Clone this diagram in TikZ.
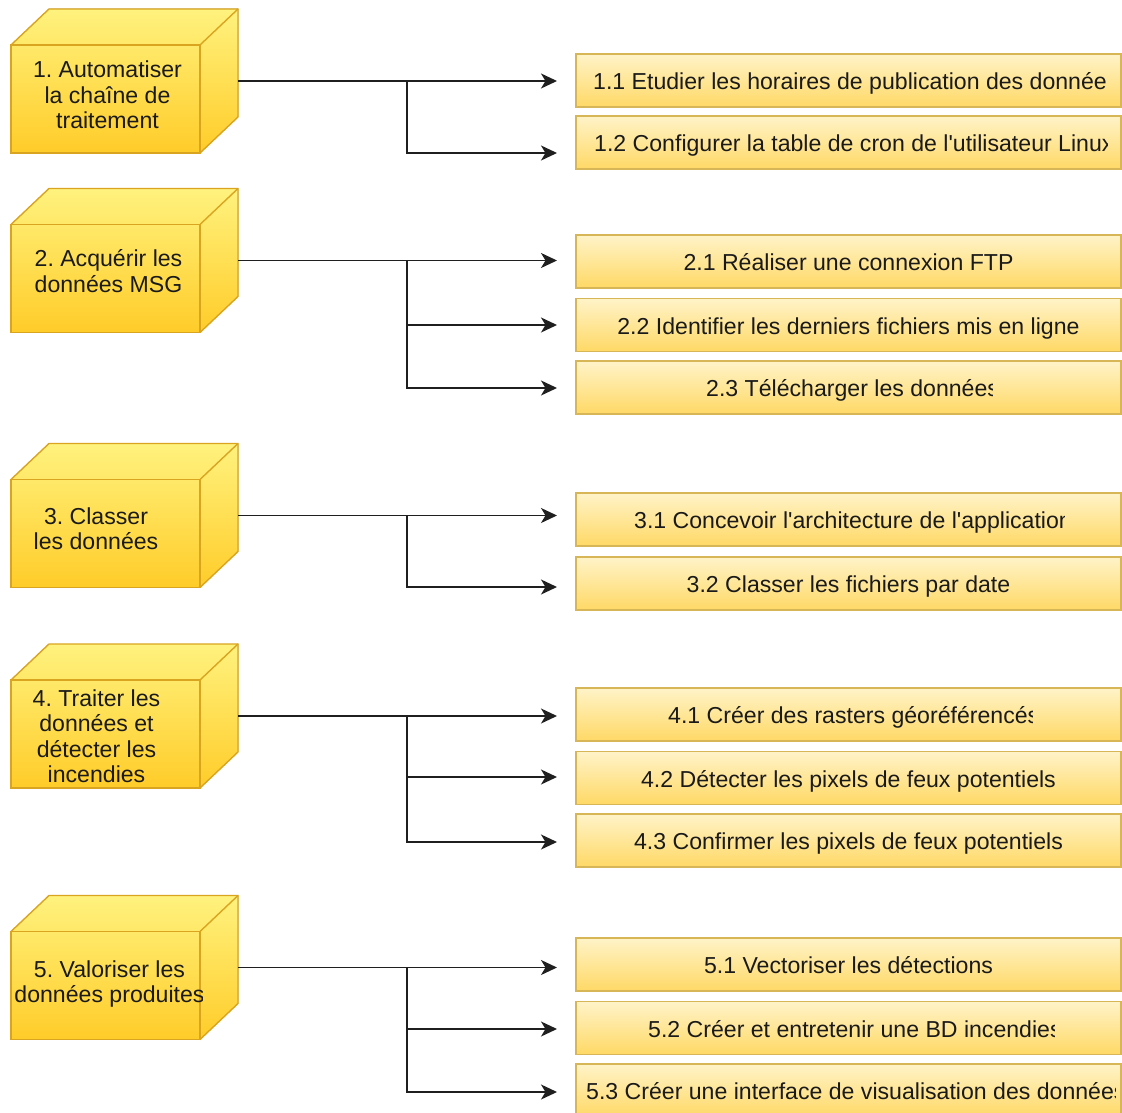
\documentclass[tikz,border=0pt]{standalone}
\usepackage{fontspec}
\setmainfont{Liberation Sans}
\usetikzlibrary{calc,arrows.meta}
\frenchspacing

\definecolor{cubetop}{HTML}{FFF27E}
\definecolor{cubebot}{HTML}{FFCC29}
\definecolor{cubeline}{HTML}{D9A520}
\definecolor{tasktop}{HTML}{FFF3C8}
\definecolor{taskbot}{HTML}{FFD966}
\definecolor{taskline}{HTML}{D6B656}
\definecolor{ink}{HTML}{1A1A1A}

% faces of a cube drawn inside the bounding node #1 (depth 38 x 36)
\newcommand\cubefaces[1]{%
  \fill[top color=cubetop, bottom color=cubebot]
    (#1.south west) -- ($(#1.north west)+(0,36)$) -- ($(#1.north west)+(38,0)$)
    -- (#1.north east) -- ($(#1.south east)+(0,-36)$) -- ($(#1.south east)+(-38,0)$) -- cycle;
  \draw[cubeedge] (#1.south west) rectangle ($(#1.north east)+(-38,36)$);
  \draw[cubeedge] ($(#1.north west)+(0,36)$) -- ($(#1.north west)+(38,0)$) -- (#1.north east)
    -- ($(#1.south east)+(0,-36)$) -- ($(#1.south east)+(-38,0)$);
  \draw[cubeedge] ($(#1.north east)+(-38,36)$) -- (#1.north east);
}

% centred label of a task box: name, box, text
\newcommand\tasklabel[3]{%
  \node[tasktext] (#1) at ($(#2.center)+(0,9)$) {#3};}

% label running past its box, cut on the right: name, box, left offset, cut offset, text
\newcommand\cutlabel[5]{%
  \begin{scope}
    \clip (#2.south west) rectangle ($(#2.north west)+(#4,0)$);
    \node[tasktext, anchor=base west] (#1) at ($(#2.west)+(#3,9)$) {#5};
  \end{scope}}

\newcommand\apos{\textquotesingle}

\begin{document}
\begin{tikzpicture}[x=1pt,y=-1pt,
  cube/.style={minimum width=227pt, minimum height=144pt, inner sep=0pt, outer sep=0pt},
  cubeedge/.style={draw=cubeline, line width=1.4pt, line join=miter},
  cubetext/.style={align=center, inner sep=0pt, text=ink,
    font=\fontsize{23.1}{25.5}\selectfont},
  taskbox/.style={draw=taskline, line width=1.3pt, top color=tasktop, bottom color=taskbot,
    minimum width=545pt, minimum height=53pt, inner sep=0pt, outer sep=0pt},
  tasktext/.style={inner sep=0pt, text=ink, anchor=base,
    font=\fontsize{23.1}{25.5}\selectfont},
  trunk/.style={line width=1.7pt, draw=black!88},
  conn/.style={trunk, -{Stealth[length=16pt,width=15pt,inset=4.5pt]}}]

\fill[white] (0,0) rectangle (1122,1113);
\useasboundingbox (0,0) rectangle (1122,1113);

% ---------- task boxes ----------
\node[taskbox] (b11) at (848.5,80.5) {};
\node[taskbox] (b12) at (848.5,142.5) {};
\node[taskbox] (b21) at (848.5,261.5) {};
\node[taskbox] (b22) at (848.5,325) {};
\node[taskbox] (b23) at (848.5,387.5) {};
\node[taskbox] (b31) at (848.5,519.5) {};
\node[taskbox] (b32) at (848.5,583.5) {};
\node[taskbox] (b41) at (848.5,714.5) {};
\node[taskbox] (b42) at (848.5,778) {};
\node[taskbox] (b43) at (848.5,840.5) {};
\node[taskbox] (b51) at (848.5,964.5) {};
\node[taskbox] (b52) at (848.5,1028) {};
\node[taskbox] (b53) at (848.5,1090.5) {};

\cutlabel{t11}{b11}{17}{529}{1.1 Etudier les horaires de publication des données}
\cutlabel{t12}{b12}{18}{531}{1.2 Configurer la table de cron de l\apos utilisateur Linux}
\tasklabel{t21}{b21}{2.1 Réaliser une connexion FTP}
\tasklabel{t22}{b22}{2.2 Identifier les derniers fichiers mis en ligne}
\cutlabel{t23}{b23}{130}{416}{2.3 Télécharger les données}
\cutlabel{t31}{b31}{58}{488}{3.1 Concevoir l\apos architecture de l\apos application}
\tasklabel{t32}{b32}{3.2 Classer les fichiers par date}
\cutlabel{t41}{b41}{92}{456}{4.1 Créer des rasters géoréférencés}
\tasklabel{t42}{b42}{4.2 Détecter les pixels de feux potentiels}
\tasklabel{t43}{b43}{4.3 Confirmer les pixels de feux potentiels}
\tasklabel{t51}{b51}{5.1 Vectoriser les détections}
\cutlabel{t52}{b52}{72}{478}{5.2 Créer et entretenir une BD incendies}
\cutlabel{t53}{b53}{10}{539}{5.3 Créer une interface de visualisation des données}

% ---------- cubes ----------
\node[cube] (c1) at (124.5,81) {};
\node[cube] (c2) at (124.5,260.5) {};
\node[cube] (c3) at (124.5,515.5) {};
\node[cube] (c4) at (124.5,716) {};
\node[cube] (c5) at (124.5,967.5) {};
\cubefaces{c1}
\cubefaces{c2}
\cubefaces{c3}
\cubefaces{c4}
\cubefaces{c5}

\node[cubetext] (l1) at (107.5,98) {\strut 1. Automatiser\\\strut la chaîne de\\\strut traitement};
\node[cubetext] (l2) at (108.5,274.5) {\strut 2. Acquérir les\\\strut données MSG};
\node[cubetext] (l3) at (96,532) {\strut 3. Classer\\\strut les données};
\node[cubetext] (l4) at (96.5,739.5) {\strut 4. Traiter les\\\strut données et\\\strut détecter les\\\strut incendies};
\begin{scope}
  \clip (0,900) rectangle (202,1040);
  \node[cubetext] (l5) at (109.5,985) {\strut 5. Valoriser les\\\strut données produites};
\end{scope}

% ---------- connectors ----------
\coordinate (j1) at (407,81);
\coordinate (e11) at (557,81);
\coordinate (e12) at (557,153);
\draw[conn] (c1.east) -- (e11);
\draw[conn] (c1.east) -- (j1) |- (e12);

\coordinate (j2) at (407,260.5);
\coordinate (e21) at (557,260.5);
\coordinate (e22) at (557,325);
\coordinate (e23) at (557,388);
\draw[conn] (c2.east) -- (e21);
\draw[conn] (c2.east) -- (j2) |- (e22);
\draw[conn] (j2) |- (e23);

\coordinate (j3) at (407,515.5);
\coordinate (e31) at (557,515.5);
\coordinate (e32) at (557,587);
\draw[conn] (c3.east) -- (e31);
\draw[conn] (c3.east) -- (j3) |- (e32);

\coordinate (j4) at (407,716);
\coordinate (e41) at (557,716);
\coordinate (e42) at (557,777);
\coordinate (e43) at (557,842);
\draw[conn] (c4.east) -- (e41);
\draw[conn] (c4.east) -- (j4) |- (e42);
\draw[conn] (j4) |- (e43);

\coordinate (j5) at (407,967.5);
\coordinate (e51) at (557,967.5);
\coordinate (e52) at (557,1029);
\coordinate (e53) at (557,1092);
\draw[conn] (c5.east) -- (e51);
\draw[conn] (c5.east) -- (j5) |- (e52);
\draw[conn] (j5) |- (e53);

\end{tikzpicture}
\end{document}
